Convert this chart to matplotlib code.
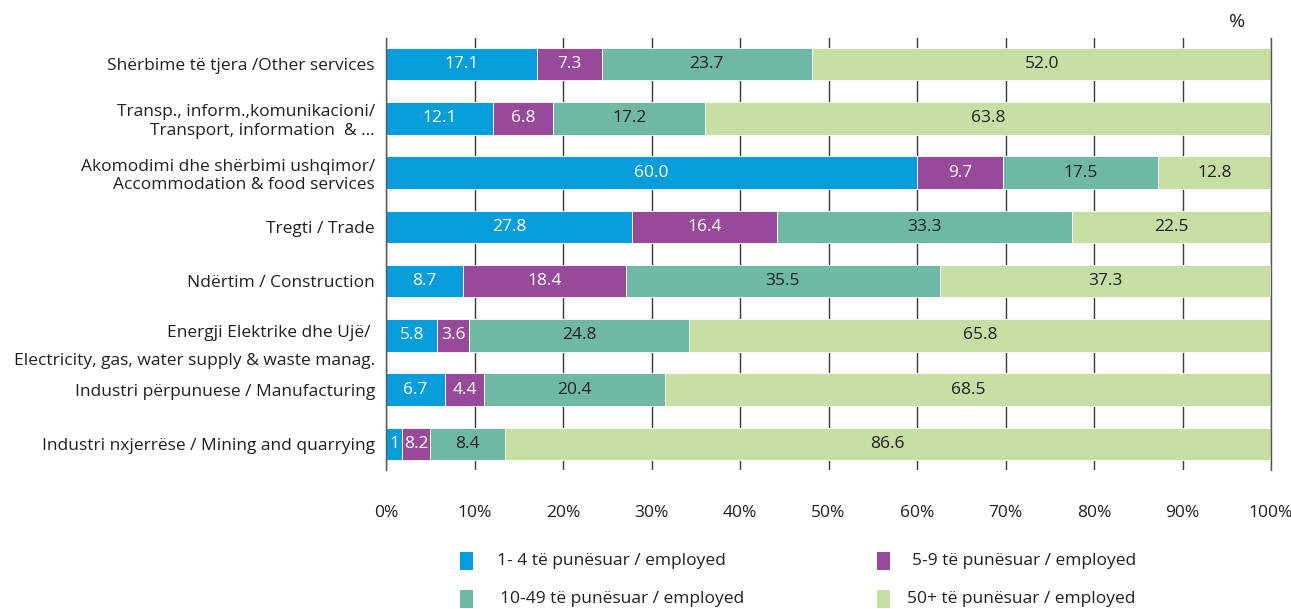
import matplotlib
matplotlib.use("Agg")
import matplotlib.pyplot as plt
from matplotlib.patches import Rectangle
from matplotlib.transforms import ScaledTranslation
import numpy as np

plt.rcParams['font.family'] = ['Open Sans', 'DejaVu Sans']

# Categories from top to bottom
categories = [
    "Shërbime të tjera /Other services",
    "Transp., inform.,komunikacioni/\nTransport, information  & ...",
    "Akomodimi dhe shërbimi ushqimor/\nAccommodation & food services",
    "Tregti / Trade",
    "Ndërtim / Construction",
    "Energji Elektrike dhe Ujë/ \nElectricity, gas, water supply & waste manag.",
    "Industri përpunuese / Manufacturing",
    "Industri nxjerrëse / Mining and quarrying",
]

series_names = [
    "1- 4 të punësuar / employed",
    "5-9 të punësuar / employed",
    "10-49 të punësuar / employed",
    "50+ të punësuar / employed",
]

emp_1_4 = [17.1, 12.1, 60.0, 27.8, 8.7, 5.8, 6.7, 1.8]
emp_5_9 = [7.3, 6.8, 9.7, 16.4, 18.4, 3.6, 4.4, 3.2]
emp_10_49 = [23.7, 17.2, 17.5, 33.3, 35.5, 24.8, 20.4, 8.4]
emp_50p = [52.0, 63.8, 12.8, 22.5, 37.3, 65.8, 68.5, 86.6]

# Printed labels (as shown on the chart)
lab_1_4 = ["17.1", "12.1", "60.0", "27.8", "8.7", "5.8", "6.7", "1"]
lab_5_9 = ["7.3", "6.8", "9.7", "16.4", "18.4", "3.6", "4.4", "8.2"]
lab_10_49 = ["23.7", "17.2", "17.5", "33.3", "35.5", "24.8", "20.4", "8.4"]
lab_50p = ["52.0", "63.8", "12.8", "22.5", "37.3", "65.8", "68.5", "86.6"]

x_ticks = [0, 10, 20, 30, 40, 50, 60, 70, 80, 90, 100]
x_ticklabels = [f"{t}%" for t in x_ticks]

colors = ["#079DDB", "#974A9A", "#6FB8A6", "#C5DFA5"]
text_colors = ["white", "white", "#231F20", "#231F20"]

FS = 12.5

W, H = 1291, 609
fig = plt.figure(figsize=(W / 100, H / 100), dpi=100)
ax = fig.add_axes([386 / W, 1 - 470 / H, (1271 - 386) / W, (470 - 38) / H])

n = len(categories)
ypos = np.arange(n)[::-1]  # top category at highest y
series = [emp_1_4, emp_5_9, emp_10_49, emp_50p]
labels = [lab_1_4, lab_5_9, lab_10_49, lab_50p]

left = np.zeros(n)
for vals, labs, c, tc in zip(series, labels, colors, text_colors):
    vals = np.array(vals)
    ax.barh(ypos, vals, left=left, height=0.6, color=c, edgecolor="white",
            linewidth=0.6, zorder=2)
    for y, l, v, s in zip(ypos, left, vals, labs):
        ax.text(l + v / 2, y, s, ha="center", va="center", color=tc,
                fontsize=FS, zorder=3)
    left = left + vals

ax.set_xlim(0, 100)
ax.set_ylim(-0.48, n - 1 + 0.48)
ax.set_xticks(x_ticks)
ax.set_xticklabels(x_ticklabels, fontsize=FS, color="#231F20")
ax.set_yticks(ypos)
ax.set_yticklabels(categories, fontsize=FS, color="#231F20", linespacing=1.2)
ax.tick_params(axis="x", length=0, pad=25)
ax.tick_params(axis="y", length=0, pad=8)
ax.xaxis.grid(True, color="#3a3a3a", linewidth=1.0, zorder=0)
ax.set_axisbelow(True)
for s in ["top", "bottom"]:
    ax.spines[s].set_visible(False)
for s in ["left", "right"]:
    ax.spines[s].set_color("#555555")
    ax.spines[s].set_linewidth(1.0)

# Energy label has wider line spacing and sits a little lower
energy_lbl = ax.get_yticklabels()[5]
energy_lbl.set_linespacing(1.95)
energy_lbl.set_transform(energy_lbl.get_transform() +
                         ScaledTranslation(0, -4 / 100, fig.dpi_scale_trans))

fig.text(1237 / W, 1 - 22 / H, "%", ha="center", va="center", fontsize=14,
         color="#231F20")

# Legend drawn manually
leg_items = [
    (460, 561, 497, 0),
    (877, 561, 912, 1),
    (460, 599, 500, 2),
    (877, 599, 907, 3),
]
for px, py, tx, i in leg_items:
    fig.patches.append(Rectangle((px / W, 1 - (py + 9) / H), 13 / W, 18 / H,
                                 transform=fig.transFigure, facecolor=colors[i],
                                 edgecolor="none"))
    fig.text(tx / W, 1 - py / H, series_names[i], ha="left", va="center",
             fontsize=FS, color="#231F20")

fig.savefig("out.png", dpi=100)
